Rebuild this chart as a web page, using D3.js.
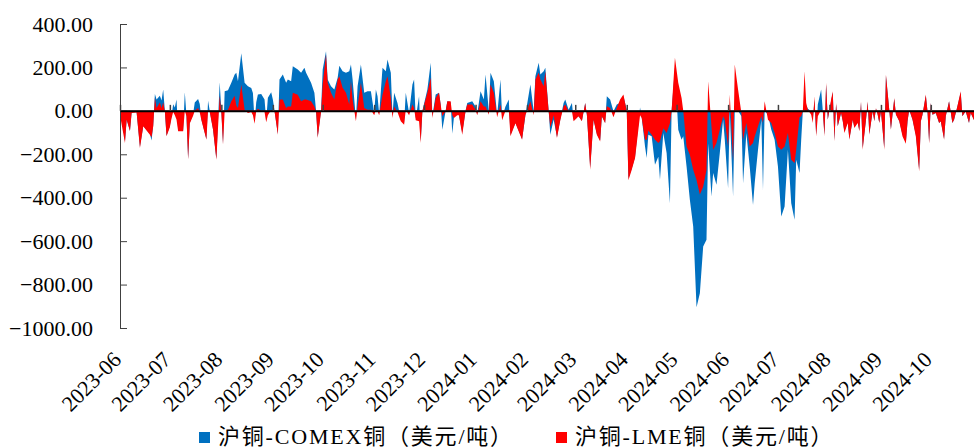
<!DOCTYPE html>
<html>
<head>
<meta charset="utf-8">
<script src="https://cdn.jsdelivr.net/npm/d3@7"></script>
<style>
    body { margin: 0; background: #fff; }
    text { font-family: "Liberation Serif", "Times New Roman", "Noto Sans CJK SC", serif; }
</style>
</head>
<body>
<div id="svg_container"></div>
<script>
// spreads (USD/t)
var dates = [
    "2023-06-01","2023-06-04","2023-06-05","2023-06-07","2023-06-08","2023-06-11","2023-06-13","2023-06-15","2023-06-17","2023-06-19","2023-06-20","2023-06-21","2023-06-22","2023-06-23","2023-06-25","2023-06-26","2023-06-27","2023-06-28","2023-06-29",
    "2023-07-01","2023-07-02","2023-07-03","2023-07-04","2023-07-05","2023-07-06","2023-07-09","2023-07-10","2023-07-11","2023-07-12","2023-07-13","2023-07-15","2023-07-16","2023-07-18","2023-07-19","2023-07-20","2023-07-23","2023-07-24","2023-07-25","2023-07-27","2023-07-29","2023-07-31",
    "2023-08-01","2023-08-02","2023-08-03","2023-08-05","2023-08-07","2023-08-09","2023-08-10","2023-08-11","2023-08-13","2023-08-15","2023-08-17","2023-08-19","2023-08-20","2023-08-21","2023-08-22","2023-08-23","2023-08-25","2023-08-27","2023-08-28","2023-08-29","2023-08-31",
    "2023-09-01","2023-09-02","2023-09-04","2023-09-05","2023-09-07","2023-09-09","2023-09-10","2023-09-12","2023-09-13","2023-09-16","2023-09-18","2023-09-20","2023-09-21","2023-09-24","2023-09-26","2023-09-27","2023-09-28","2023-09-30",
    "2023-10-01","2023-10-03","2023-10-04","2023-10-06","2023-10-08","2023-10-10","2023-10-11","2023-10-13","2023-10-15","2023-10-17","2023-10-18","2023-10-19","2023-10-21","2023-10-22","2023-10-24","2023-10-26","2023-10-28","2023-10-30",
    "2023-11-01","2023-11-02","2023-11-03","2023-11-04","2023-11-06","2023-11-08","2023-11-09","2023-11-11","2023-11-12","2023-11-13","2023-11-15","2023-11-17","2023-11-19","2023-11-20","2023-11-22","2023-11-24","2023-11-25","2023-11-26","2023-11-28","2023-11-29","2023-11-30",
    "2023-12-03","2023-12-05","2023-12-06","2023-12-08","2023-12-10","2023-12-11","2023-12-12","2023-12-14","2023-12-15","2023-12-17","2023-12-18","2023-12-19","2023-12-21","2023-12-22","2023-12-24","2023-12-26","2023-12-27","2023-12-30",
    "2024-01-01","2024-01-02","2024-01-04","2024-01-06","2024-01-07","2024-01-09","2024-01-10","2024-01-12","2024-01-14","2024-01-16","2024-01-17","2024-01-19","2024-01-21","2024-01-22","2024-01-25","2024-01-29","2024-01-31",
    "2024-02-01","2024-02-03","2024-02-05","2024-02-06","2024-02-08","2024-02-09","2024-02-11","2024-02-12","2024-02-14","2024-02-15","2024-02-17","2024-02-19","2024-02-21","2024-02-23","2024-02-24","2024-02-26","2024-02-28","2024-02-29",
    "2024-03-02","2024-03-03","2024-03-05","2024-03-07","2024-03-08","2024-03-10","2024-03-12","2024-03-14","2024-03-16","2024-03-17","2024-03-19","2024-03-20","2024-03-22","2024-03-24","2024-03-26","2024-03-28","2024-03-30",
    "2024-04-01","2024-04-02","2024-04-04","2024-04-06","2024-04-09","2024-04-10","2024-04-12","2024-04-13","2024-04-14","2024-04-16","2024-04-18","2024-04-20","2024-04-21","2024-04-23","2024-04-25","2024-04-27","2024-04-28","2024-04-30",
    "2024-05-02","2024-05-04","2024-05-05","2024-05-07","2024-05-09","2024-05-11","2024-05-13","2024-05-15","2024-05-17","2024-05-19","2024-05-20","2024-05-22","2024-05-23","2024-05-25","2024-05-27","2024-05-29","2024-05-30",
    "2024-06-01","2024-06-02","2024-06-04","2024-06-05","2024-06-07","2024-06-09","2024-06-10","2024-06-12","2024-06-14","2024-06-16","2024-06-17","2024-06-19","2024-06-21","2024-06-22","2024-06-23","2024-06-25","2024-06-27","2024-06-29",
    "2024-07-01","2024-07-03","2024-07-05","2024-07-07","2024-07-09","2024-07-11","2024-07-12","2024-07-14","2024-07-15","2024-07-16","2024-07-17","2024-07-18","2024-07-19","2024-07-21","2024-07-22","2024-07-23","2024-07-24","2024-07-25","2024-07-27","2024-07-28","2024-07-29","2024-07-30","2024-07-31",
    "2024-08-02","2024-08-03","2024-08-04","2024-08-05","2024-08-06","2024-08-08","2024-08-09","2024-08-10","2024-08-12","2024-08-13","2024-08-15","2024-08-16","2024-08-18","2024-08-19","2024-08-20","2024-08-21","2024-08-23","2024-08-24","2024-08-25","2024-08-27","2024-08-28","2024-08-29","2024-08-30","2024-08-31",
    "2024-09-01","2024-09-03","2024-09-04","2024-09-06","2024-09-07","2024-09-09","2024-09-10","2024-09-12","2024-09-14","2024-09-16","2024-09-17","2024-09-18","2024-09-20","2024-09-22","2024-09-24","2024-09-25","2024-09-26","2024-09-28","2024-09-29","2024-09-30",
    "2024-10-01","2024-10-02","2024-10-04","2024-10-06","2024-10-07","2024-10-09","2024-10-10","2024-10-12","2024-10-14","2024-10-15","2024-10-17","2024-10-19","2024-10-20","2024-10-22","2024-10-24","2024-10-25","2024-10-27"
];

var comex = [
    40,-140,-40,-90,-5,-5,-165,-70,-88,-105,-136,-65,78,52,70,48,98,0,-115,
    -70,-25,30,16,52,-90,-90,86,-20,-220,-55,-15,39,55,32,-40,-130,47,0,-85,-220,132,
    0,-150,90,95,129,167,175,136,265,129,113,105,82,-50,40,75,78,52,-45,60,86,
    52,0,-105,144,167,129,144,136,205,190,175,198,175,129,83,0,-120,0,
    190,275,144,113,98,152,208,182,175,182,213,144,-40,113,213,83,90,90,
    -10,98,67,-15,198,182,236,175,-20,83,36,-40,-55,83,-10,121,144,-35,67,-140,0,
    98,221,-25,75,83,29,-87,0,44,40,-106,-30,-15,-20,-100,0,36,44,
    20,-15,90,52,167,-2,175,136,-20,144,-30,20,52,-110,-55,-130,-20,
    29,121,-2,159,221,167,182,198,0,-110,-40,-120,-40,36,52,5,36,-40,
    -30,-25,-45,36,-18,-260,-40,-105,-135,-25,-55,67,52,-2,29,36,67,
    5,-310,-265,-212,15,-30,-164,-217,-110,-117,-248,-211,-317,-102,-194,-425,0,200,
    -87,-133,-117,-256,-410,-533,-905,-840,-625,-594,-150,-394,-286,-340,-194,-41,-133,
    -356,0,-394,0,0,-25,-333,-102,-256,-433,-333,-179,-41,-364,0,-18,-87,-133,
    -256,-487,-440,-179,-425,-502,-225,-286,-133,0,0,25,10,-2,-40,50,-110,29,98,0,-110,120,-40,
    45,85,-135,30,-70,-10,-45,-95,-50,-128,-40,-75,-50,-90,40,-170,-40,40,-105,-2,-45,10,-15,-55,
    -2,-170,160,5,-85,55,-15,-45,-110,-145,-48,5,-40,-110,-270,-48,-18,70,-2,-145,
    36,-18,-10,-56,-48,-128,-25,44,-56,-41,20,85,-25,-2,-56,-10,-41
];

var lme = [
    -20,-148,-41,-94,-10,-7,-171,-71,-90,-110,-122,-71,59,13,39,13,39,-2,-117,
    -75,-35,-5,-20,-40,-94,-94,0,-25,-225,-58,-22,0,13,-7,-43,-133,0,-5,-87,-225,70,
    -10,-156,0,5,44,70,25,13,120,5,-10,-5,-20,-59,0,10,0,-5,-53,-20,5,
    -5,-2,-110,52,52,13,20,20,83,74,44,52,52,44,20,-2,-125,-5,
    121,259,129,83,52,144,159,106,83,29,136,52,-48,20,129,13,5,5,
    -20,5,-2,-20,74,136,159,59,-33,20,-5,-48,-64,5,-20,29,13,-43,-48,-148,-2,
    83,152,-33,59,83,29,-25,-2,44,44,-20,-33,-20,-20,-110,0,29,29,
    5,-20,44,20,20,-18,121,83,-30,29,-43,0,5,-117,-57,-133,-20,
    0,44,-20,144,175,144,113,182,-2,-77,-20,-125,-43,21,29,-2,-2,-48,
    -33,-25,-48,36,-18,-271,-41,-110,-141,-25,-57,21,13,-30,13,52,75,
    -2,-320,-271,-217,-20,-33,-133,-133,-90,-110,-133,-148,-140,-80,-102,-57,0,244,
    129,59,0,-164,-203,-271,-318,-385,-349,-271,136,-73,-179,-148,-87,-25,-41,
    -164,75,-231,213,98,-10,-133,-56,-164,-148,-118,-71,-25,-56,44,-41,-56,-102,
    -164,-179,-164,-102,-225,-240,-179,-30,-25,0,182,36,5,-18,-56,67,-118,-25,5,-2,-118,129,-41,
    52,90,-141,36,-71,-10,-48,-102,-56,-133,-41,-79,-56,-95,44,-179,-41,44,-110,-2,-48,13,-18,-56,
    -2,-179,167,5,-87,59,-18,-48,-118,-151,-48,5,-41,-118,-279,-48,-18,75,-2,-151,
    36,-18,-10,-56,-48,-133,-25,44,-56,-41,21,90,-25,-2,-56,-10,-43
];

var yTicks = [-1000, -800, -600, -400, -200, 0, 200, 400];
var seriesNames = ["沪铜-COMEX铜（美元/吨）", "沪铜-LME铜（美元/吨）"];
var seriesColors = ["#0070C0", "#FF0000"];

var chartWidth = 974, chartHeight = 448;
var plotLeft = 120, plotRight = 974, plotTop = 24, plotBottom = 328;
var fontSize = "22px";

var parse = d3.timeParse("%Y-%m-%d");
var rows = dates.map(function (d, i) {
    return {date: parse(d), comex: comex[i], lme: lme[i]};
});

var svg = d3.select("#svg_container")
        .append("svg")
        .attr("width", chartWidth)
        .attr("height", chartHeight);

var x = d3.scaleTime()
        .domain([parse("2023-06-01"), parse("2024-10-27")])
        .range([plotLeft, plotRight]);
var y = d3.scaleLinear()
        .domain([-1000, 400])
        .range([plotBottom, plotTop]);

function areaFor(key) {
    return d3.area()
            .x(function (d) { return x(d.date); })
            .y0(y(0))
            .y1(function (d) { return y(d[key]); });
}

// blue behind, red in front
svg.append("path").datum(rows)
        .attr("fill", seriesColors[0])
        .attr("d", areaFor("comex"));
svg.append("path").datum(rows)
        .attr("fill", seriesColors[1])
        .attr("d", areaFor("lme"));

// y axis, ticks pointing inward
svg.append("g")
        .attr("transform", "translate(" + plotLeft + ",0)")
        .call(d3.axisLeft(y)
                .tickValues(yTicks)
                .tickFormat(d3.format(".2f"))
                .tickSize(-7)
                .tickSizeOuter(0)
                .tickPadding(27))
        .call(function (g) {
            g.selectAll("line, path").attr("stroke", "#404040");
            g.selectAll("text").attr("fill", "#000").style("font-size", fontSize);
        });

var months = d3.timeMonth.range(parse("2023-06-01"), parse("2024-10-02"));

// zero line with month ticks
svg.append("g")
        .attr("transform", "translate(0," + y(0) + ")")
        .call(d3.axisBottom(x)
                .tickValues(months)
                .tickSize(-6)
                .tickSizeOuter(0)
                .tickFormat(""))
        .call(function (g) {
            g.select(".domain").attr("stroke", "#000").attr("stroke-width", 2);
            g.selectAll(".tick line").attr("stroke", "#404040").attr("stroke-width", 1.5);
        });

// month labels at the bottom
svg.append("g")
        .attr("transform", "translate(0,361)")
        .call(d3.axisBottom(x)
                .tickValues(months)
                .tickSize(0)
                .tickPadding(0)
                .tickFormat(d3.timeFormat("%Y-%m")))
        .call(function (g) {
            g.select(".domain").remove();
            g.selectAll("text")
                    .attr("y", 0)
                    .attr("dy", 0)
                    .attr("text-anchor", "end")
                    .attr("fill", "#000")
                    .attr("transform", "translate(2,0) rotate(-45)")
                    .style("font-size", fontSize);
        });

// legend
var legendX = [199, 556];
var legend = svg.append("g");
seriesNames.forEach(function (name, i) {
    legend.append("rect")
            .attr("x", legendX[i])
            .attr("y", 432)
            .attr("width", 11)
            .attr("height", 11)
            .attr("fill", seriesColors[i]);
    legend.append("text")
            .attr("x", legendX[i] + 19)
            .attr("y", 444)
            .attr("fill", "#000")
            .attr("letter-spacing", "1.8px")
            .style("font-size", "22px")
            .text(name);
});
</script>
</body>
</html>
